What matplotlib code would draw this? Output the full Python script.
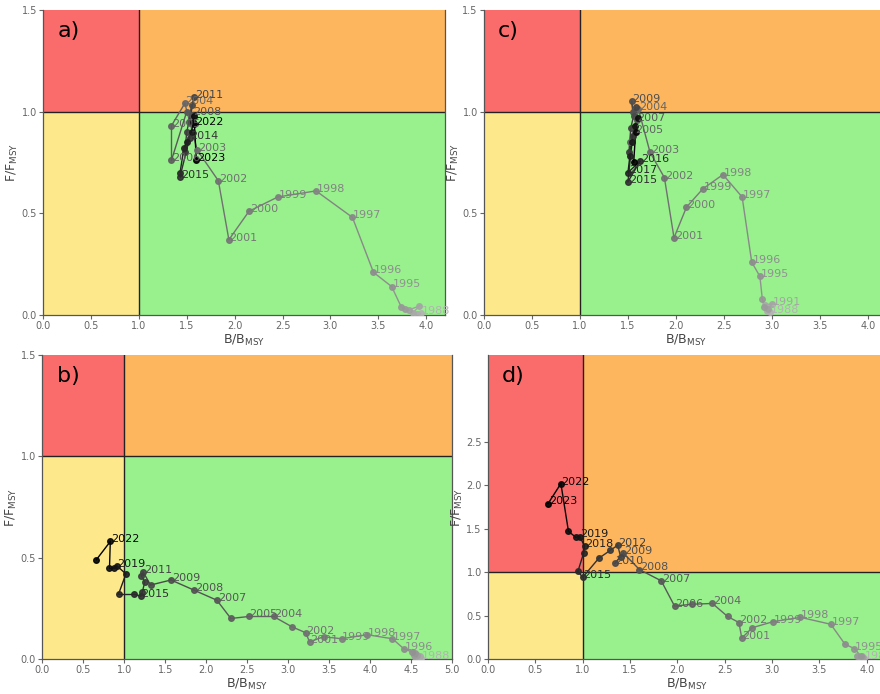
import matplotlib
matplotlib.use("Agg")
import matplotlib.pyplot as plt
from matplotlib.patches import Rectangle
from matplotlib.ticker import FormatStrFormatter
import numpy as np

years = list(range(1988, 2024))

# Stock trajectories: B/Bmsy and F/Fmsy for each year 1988-2023
b_a = [3.95, 3.90, 3.86, 3.93, 3.82, 3.78, 3.74, 3.64, 3.45, 3.23, 2.85, 2.45,
       2.15, 1.94, 1.83, 1.61, 1.48, 1.34, 1.34, 1.50, 1.56, 1.52, 1.55, 1.58,
       1.50, 1.48, 1.53, 1.43, 1.43, 1.47, 1.50, 1.55, 1.57, 1.58, 1.58, 1.60]
f_a = [0.01, 0.005, 0.01, 0.045, 0.025, 0.03, 0.04, 0.14, 0.21, 0.48, 0.61, 0.58,
       0.51, 0.37, 0.66, 0.81, 1.04, 0.93, 0.76, 1.00, 0.985, 0.95, 1.03, 1.07,
       0.90, 0.80, 0.87, 0.68, 0.70, 0.82, 0.85, 0.90, 0.95, 0.98, 0.94, 0.76]

b_b = [4.62, 4.58, 4.60, 4.55, 4.57, 4.53, 4.55, 4.51, 4.41, 4.27, 3.96, 3.65,
       3.43, 3.26, 3.21, 3.04, 2.82, 2.52, 2.30, 2.13, 1.85, 1.57, 1.32, 1.23,
       1.21, 1.25, 1.22, 1.20, 1.12, 0.93, 1.02, 0.91, 0.87, 0.82, 0.83, 0.66]
f_b = [0.005, 0.01, 0.015, 0.01, 0.02, 0.02, 0.03, 0.035, 0.05, 0.10, 0.12, 0.10,
       0.11, 0.085, 0.13, 0.16, 0.21, 0.21, 0.20, 0.29, 0.34, 0.39, 0.365, 0.43,
       0.41, 0.38, 0.33, 0.31, 0.32, 0.32, 0.42, 0.46, 0.45, 0.45, 0.58, 0.49]

b_c = [2.98, 2.95, 2.93, 3.00, 2.96, 2.92, 2.90, 2.875, 2.79, 2.69, 2.49, 2.28,
       2.11, 1.98, 1.88, 1.73, 1.61, 1.57, 1.52, 1.59, 1.55, 1.54, 1.56, 1.58,
       1.53, 1.51, 1.55, 1.50, 1.625, 1.50, 1.52, 1.54, 1.57, 1.60, 1.58, 1.56]
f_c = [0.015, 0.02, 0.05, 0.055, 0.03, 0.04, 0.08, 0.19, 0.26, 0.58, 0.69, 0.62,
       0.53, 0.38, 0.675, 0.80, 1.01, 0.90, 0.85, 0.96, 1.00, 1.05, 0.98, 1.02,
       0.92, 0.80, 0.88, 0.655, 0.755, 0.70, 0.78, 0.85, 0.93, 0.97, 0.90, 0.75]

b_d = [3.97, 3.93, 3.95, 3.92, 3.96, 3.90, 3.94, 3.87, 3.77, 3.62, 3.30, 3.01,
       2.79, 2.68, 2.65, 2.53, 2.37, 2.15, 1.97, 1.83, 1.60, 1.43, 1.34, 1.40,
       1.37, 1.29, 1.17, 1.00, 0.95, 1.01, 1.02, 0.97, 0.93, 0.85, 0.77, 0.635]
f_d = [0.01, 0.02, 0.03, 0.02, 0.015, 0.04, 0.03, 0.12, 0.17, 0.40, 0.48, 0.43,
       0.36, 0.24, 0.42, 0.49, 0.64, 0.63, 0.61, 0.90, 1.03, 1.22, 1.10, 1.18,
       1.31, 1.25, 1.16, 0.94, 1.01, 1.22, 1.30, 1.41, 1.40, 1.47, 2.02, 1.79]

# Years that carry a text label in each panel
labels_a = [1988, 1995, 1996, 1997, 1998, 1999, 2000, 2001, 2002, 2003, 2004,
            2005, 2006, 2008, 2011, 2014, 2015, 2022, 2023]
labels_b = [1988, 1996, 1997, 1998, 1999, 2001, 2002, 2004, 2005, 2007, 2008,
            2009, 2011, 2015, 2019, 2022]
labels_c = [1988, 1991, 1995, 1996, 1997, 1998, 1999, 2000, 2001, 2002, 2003,
            2004, 2005, 2007, 2009, 2015, 2016, 2017]
labels_d = [1988, 1995, 1997, 1998, 1999, 2001, 2002, 2004, 2006, 2007, 2008,
            2009, 2010, 2012, 2015, 2018, 2019, 2022, 2023]

RED = "#fa6b6b"
ORANGE = "#fdb55e"
YELLOW = "#fde98b"
GREEN = "#98f18d"


def year_colour(y):
    t = (y - years[0]) / (years[-1] - years[0])
    g = 0.70 * (1 - t) ** 0.9
    return (g, g, g)


def kobe(ax, bs, fs, lab_years, xmax, ymax, xticks, yticks, tag):
    ax.set_xlim(0, xmax)
    ax.set_ylim(0, ymax)
    ax.add_patch(Rectangle((0, 0), 1, 1, facecolor=YELLOW, edgecolor="none", zorder=0))
    ax.add_patch(Rectangle((1, 0), xmax - 1, 1, facecolor=GREEN, edgecolor="none", zorder=0))
    ax.add_patch(Rectangle((0, 1), 1, ymax - 1, facecolor=RED, edgecolor="none", zorder=0))
    ax.add_patch(Rectangle((1, 1), xmax - 1, ymax - 1, facecolor=ORANGE, edgecolor="none", zorder=0))
    ax.axvline(1, color="#222222", lw=1.0, zorder=1)
    ax.axhline(1, color="#222222", lw=1.0, zorder=1)

    for i in range(1, len(bs)):
        ax.plot(bs[i - 1:i + 1], fs[i - 1:i + 1], color=year_colour(years[i]),
                lw=1.0, zorder=2)
    for y, b, f in zip(years, bs, fs):
        ax.plot(b, f, "o", ms=4.0, color=year_colour(y), mec=year_colour(y),
                alpha=0.9, zorder=3)
        if y in lab_years:
            ax.annotate(str(y), (b, f), xytext=(0.5, 1.5), textcoords="offset points",
                        ha="left", va="center", fontsize=8, color=year_colour(y),
                        zorder=4)

    ax.set_xticks(xticks)
    ax.set_yticks(yticks)
    ax.xaxis.set_major_formatter(FormatStrFormatter("%.1f"))
    ax.yaxis.set_major_formatter(FormatStrFormatter("%.1f"))
    ax.tick_params(labelsize=7, colors="#666666", length=3, width=0.8, pad=1.5)
    for s in ax.spines.values():
        s.set_color("#555555")
        s.set_linewidth(0.9)
    ax.spines["top"].set_visible(False)
    ax.set_xlabel(r"$\mathregular{B/B_{MSY}}$", fontsize=9, color="#444444", labelpad=1)
    ax.set_ylabel(r"$\mathregular{F/F_{MSY}}$", fontsize=9, color="#444444", labelpad=1)
    ax.text(0.035, 0.93, tag, transform=ax.transAxes, fontsize=16, color="black",
            ha="left", va="center", zorder=5)


fig = plt.figure(figsize=(8.8, 6.94), dpi=100)

ax_a = fig.add_axes([0.049, 0.546, 0.457, 0.440])
ax_c = fig.add_axes([0.550, 0.546, 0.458, 0.440])
ax_b = fig.add_axes([0.048, 0.0504, 0.466, 0.438])
ax_d = fig.add_axes([0.5545, 0.0504, 0.452, 0.438])

kobe(ax_a, b_a, f_a, labels_a, 4.2, 1.5, np.arange(0, 4.01, 0.5), np.arange(0, 1.51, 0.5), "a)")
kobe(ax_c, b_c, f_c, labels_c, 4.2, 1.5, np.arange(0, 4.01, 0.5), np.arange(0, 1.51, 0.5), "c)")
kobe(ax_b, b_b, f_b, labels_b, 5.0, 1.5, np.arange(0, 5.01, 0.5), np.arange(0, 1.51, 0.5), "b)")
kobe(ax_d, b_d, f_d, labels_d, 4.2, 3.5, np.arange(0, 4.01, 0.5), np.arange(0, 2.51, 0.5), "d)")

fig.savefig("out.png", dpi=100, facecolor="white")
